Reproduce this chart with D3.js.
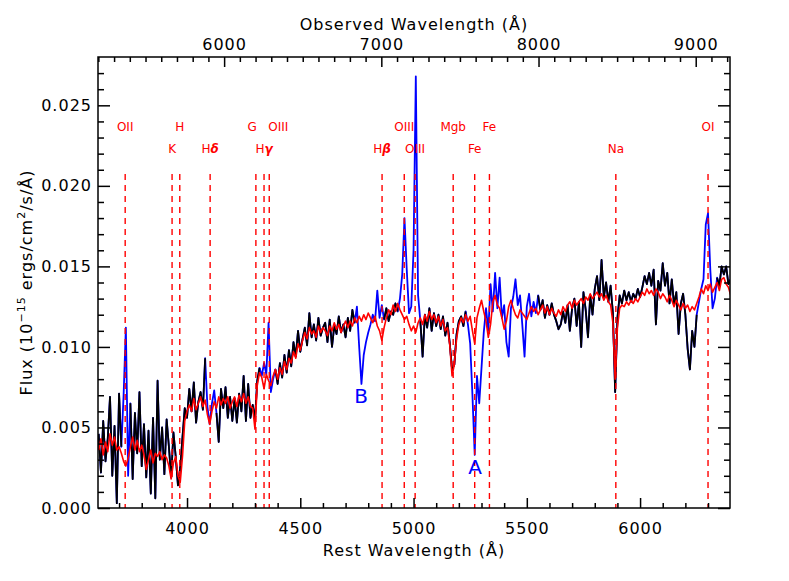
<!DOCTYPE html>
<html>
<head>
<meta charset="utf-8">
<script src="https://cdn.jsdelivr.net/npm/d3@7"></script>
<style>
  html, body { margin: 0; padding: 0; background: #fff; }
  svg { display: block; }
</style>
</head>
<body>
<svg id="chart" width="789" height="581"></svg>
<script>
// ---------------- DATA ----------------
// Rest wavelength grid (Å): start and step of the sampled spectrum
const restWavelengthStart = 3610;
const restWavelengthStep = 10;
// flux values in units of 10^-3 (x 10^-15 ergs/cm^2/s/Å)
const fluxUnit = 0.001;

// observed spectrum (drawn black, with blue where lines are masked)
const observedFlux = [
  4.6, 2.2, 5.4, 2.9, 4.3, 6.9, 2.0, 5.1, 0.3, 7.1,
  3.8, 7.0, 11.2, 2.0, 6.5, 1.8, 5.9, 3.4, 7.2, 2.6,
  5.2, 1.9, 4.8, 0.9, 5.6, 0.6, 7.9, 3.0, 5.0, 2.1,
  5.5, 3.8, 1.9, 4.7, 3.2, 1.4, 2.5, 4.4, 6.2, 5.6,
  7.4, 6.0, 7.8, 5.3, 6.6, 7.2, 6.1, 9.3, 6.3, 5.2,
  6.5, 7.3, 5.9, 4.1, 7.4, 6.2, 7.5, 5.6, 6.9, 5.4,
  6.8, 5.3, 7.1, 6.0, 8.2, 5.4, 7.7, 5.6, 6.4, 5.5,
  7.9, 8.7, 8.2, 9.0, 8.3, 11.5, 7.2, 8.0, 8.6, 7.7,
  9.0, 8.1, 9.5, 8.4, 9.8, 8.8, 10.3, 9.4, 11.0, 9.7,
  10.5, 11.2, 10.1, 12.1, 10.6, 11.4, 10.4, 11.8, 10.7, 11.2,
  11.5, 10.3, 11.7, 10.0, 11.3, 10.8, 11.9, 10.9, 11.4, 10.6,
  11.8, 11.0, 12.3, 11.5, 12.5, 10.0, 7.7, 9.5, 10.3, 10.9,
  11.4, 12.0, 11.6, 13.5, 11.8, 12.6, 11.7, 12.4, 11.6, 12.2,
  12.0, 12.7, 12.2, 13.0, 14.5, 18.0, 14.8, 12.1, 12.5, 16.0,
  26.8, 13.2, 11.6, 9.4, 12.0, 11.2, 12.4, 11.0, 12.1, 11.3,
  12.0, 11.1, 11.9, 10.7, 11.5, 10.2, 8.6, 8.9, 10.8, 11.6,
  11.9, 11.3, 12.2, 11.4, 10.2, 7.0, 3.3, 8.2, 6.5, 8.7,
  10.9, 12.4, 11.0, 13.9, 12.2, 14.6, 12.4, 14.3, 11.8, 12.6,
  10.3, 9.4, 12.4, 13.1, 14.2, 12.6, 13.2, 11.4, 9.4, 12.5,
  13.3, 11.9, 12.8, 12.1, 13.2, 12.3, 12.9, 11.8, 12.6, 12.0,
  12.7, 12.0, 11.6, 11.1, 11.4, 12.2, 11.5, 12.6, 11.0, 12.4,
  13.0, 11.3, 12.8, 10.0, 13.4, 12.3, 10.6, 13.2, 12.0, 13.6,
  14.4, 12.9, 15.4, 13.1, 14.0, 12.8, 13.8, 12.1, 7.2, 11.8,
  13.2, 12.7, 13.5, 12.9, 13.4, 12.8, 13.3, 13.0, 13.6, 13.1,
  13.7, 14.4, 13.9, 14.6, 13.8, 14.8, 11.4, 14.1, 13.5, 15.2,
  13.8, 14.6, 12.7, 14.2, 12.6, 13.4, 10.8, 12.7, 13.3, 12.0,
  9.9, 8.6, 11.0, 10.0, 12.0, 12.8, 13.6, 14.2, 17.6, 18.3,
  14.8, 12.4, 13.0, 14.3, 13.8, 15.0, 14.5, 15.0, 13.9, 14.2
];

// stellar population model (red)
const modelFlux = [
  3.6, 4.3, 3.3, 4.1, 3.5, 4.6, 3.9, 4.4, 3.6, 3.8,
  3.4, 2.9, 2.6, 3.1, 3.8, 4.4, 3.6, 4.2, 3.5, 3.9,
  3.3, 2.4, 3.0, 3.6, 2.8, 3.4, 3.2, 3.5, 3.0, 3.3,
  3.1, 2.6, 1.8, 2.8, 3.2, 2.0, 1.6, 3.2, 5.4, 6.0,
  6.4, 6.0, 6.8, 6.1, 6.5, 6.9, 6.3, 6.7, 5.8, 5.2,
  6.0, 6.6, 6.2, 6.9, 6.4, 6.8, 6.5, 6.9, 6.2, 6.6,
  6.9, 6.3, 7.0, 6.6, 7.1, 6.5, 6.9, 6.3, 6.2, 4.9,
  7.6, 8.4, 8.1, 7.4, 8.3, 7.9, 7.6, 8.2, 8.6, 8.0,
  8.7, 8.3, 9.1, 8.6, 9.3, 9.0, 9.7, 9.3, 10.2, 9.8,
  10.4, 10.9, 10.5, 11.2, 10.8, 11.0, 10.6, 11.3, 10.9, 11.2,
  11.0, 10.7, 11.3, 11.0, 11.5, 11.1, 11.4, 10.9, 11.3, 11.6,
  11.2, 11.6, 11.3, 11.8, 11.5, 11.9, 11.6, 12.0, 11.7, 12.1,
  11.8, 11.5, 11.9, 11.3, 11.0, 10.4, 11.2, 11.8, 12.3, 12.0,
  12.6, 12.2, 12.7, 12.3, 12.0, 11.7, 11.9, 11.4, 11.0, 11.3,
  10.9, 11.5, 11.8, 11.4, 12.0, 11.6, 12.2, 11.7, 12.0, 11.5,
  11.9, 11.3, 11.7, 11.0, 11.2, 10.1, 8.2, 8.9, 10.5, 11.4,
  11.8, 11.5, 12.0, 11.6, 11.9, 11.0, 10.2, 11.8, 12.4, 12.9,
  12.2, 11.6, 10.6, 11.4, 12.8, 13.2, 12.6, 12.4, 11.8, 11.1,
  11.6, 12.5, 12.9, 12.4, 12.0, 11.8, 12.3, 12.1, 11.9, 11.7,
  12.1, 12.5, 12.2, 12.4, 12.0, 12.3, 12.6, 12.1, 12.5, 12.0,
  12.4, 12.1, 11.9, 12.3, 12.0, 12.5, 12.2, 12.6, 12.8, 12.4,
  12.9, 12.6, 12.8, 13.0, 12.7, 13.1, 12.9, 13.3, 13.0, 13.2,
  13.4, 13.1, 13.3, 12.9, 13.2, 12.8, 12.6, 11.5, 8.0, 11.2,
  12.4, 12.6, 12.5, 12.8, 12.6, 12.9, 12.7, 13.0, 12.8, 13.1,
  13.4, 13.2, 13.6, 13.3, 13.5, 13.2, 13.6, 13.4, 13.0, 13.3,
  13.1, 12.8, 13.2, 12.9, 12.5, 12.9, 12.6, 12.3, 12.7, 12.4,
  12.6, 12.2, 12.5, 12.3, 12.7, 13.1, 13.6, 13.3, 13.8, 13.5,
  13.9, 13.4, 13.7, 14.0, 13.5, 14.2, 14.3, 13.9, 13.7, 13.2
];

// wavelength intervals (rest Å) where the line regions are shown in blue
const blueMaskRanges = [
  [3712, 3748], [4085, 4125], [4325, 4385], [4745, 4865],
  [4935, 5025], [5235, 5545], [6255, 6335]
];

// spectral line identifications
const lineNames = ["OII", "K", "H", "Hδ", "G", "Hγ", "OIII", "Hβ", "OIII", "OIII", "Mgb", "Fe", "Fe", "Na", "OI"];
const lineWavelengths = [3727, 3934, 3968, 4102, 4304, 4340, 4363, 4861, 4959, 5007, 5175, 5270, 5335, 5893, 6300];
const lineLabelRow = [0, 1, 0, 1, 0, 1, 0, 1, 0, 1, 0, 1, 0, 1, 0];
const lineLabelAnchor = ["middle", "middle", "middle", "middle", "end", "middle", "start", "middle", "middle", "middle", "middle", "middle", "middle", "middle", "middle"];

// feature markers
const markerLabels = ["B", "A"];
const markerWavelengths = [4768, 5272];
const markerFlux = [0.0065, 0.0021];

// axes
const restDomain = [3607, 6397];
const fluxDomain = [0, 0.028];
const redshiftFactor = 1.441; // observed = rest * (1+z)
const restMajorTicks = [4000, 4500, 5000, 5500, 6000];
const restMinorTicks = [3700, 3800, 3900, 4100, 4200, 4300, 4400, 4600, 4700, 4800, 4900, 5100, 5200, 5300, 5400, 5600, 5700, 5800, 5900, 6100, 6200, 6300];
const obsMajorTicks = [6000, 7000, 8000, 9000];
const obsMinorTicks = [5200, 5300, 5400, 5500, 5600, 5700, 5800, 5900, 6100, 6200, 6300, 6400, 6500, 6600, 6700, 6800, 6900, 7100, 7200, 7300, 7400, 7500, 7600, 7700, 7800, 7900, 8100, 8200, 8300, 8400, 8500, 8600, 8700, 8800, 8900, 9100, 9200];
const fluxMajorTicks = [0, 0.005, 0.010, 0.015, 0.020, 0.025];
const fluxMinorTicks = [0.001, 0.002, 0.003, 0.004, 0.006, 0.007, 0.008, 0.009, 0.011, 0.012, 0.013, 0.014, 0.016, 0.017, 0.018, 0.019, 0.021, 0.022, 0.023, 0.024, 0.026, 0.027];

// ---------------- DRAW ----------------
(function () {
const pL = 98, pR = 730, pT = 57, pB = 508;
const FONT = "'DejaVu Sans', Verdana, sans-serif";
const svg = d3.select("#chart");

const x = d3.scaleLinear().domain(restDomain).range([pL, pR]);
const xObs = d3.scaleLinear().domain(restDomain.map(d => d * redshiftFactor)).range([pL, pR]);
const y = d3.scaleLinear().domain(fluxDomain).range([pB, pT]);

const spectrum = observedFlux.map((f, i) => ({
  wl: restWavelengthStart + i * restWavelengthStep,
  obs: f * fluxUnit,
  model: modelFlux[i] * fluxUnit
}));
const inMask = wl => blueMaskRanges.some(r => wl >= r[0] && wl <= r[1]);

svg.append("defs").append("clipPath").attr("id", "clip")
  .append("rect").attr("x", pL).attr("y", pT).attr("width", pR - pL).attr("height", pB - pT);

const plot = svg.append("g").attr("clip-path", "url(#clip)");

const lineObs = d3.line().x(d => x(d.wl)).y(d => y(d.obs));
const lineObsBlack = d3.line().defined(d => !inMask(d.wl)).x(d => x(d.wl)).y(d => y(d.obs));
const lineModel = d3.line().x(d => x(d.wl)).y(d => y(d.model));

plot.append("path").datum(spectrum).attr("d", lineObs)
  .attr("fill", "none").attr("stroke", "#0000ff").attr("stroke-width", 1.8).attr("stroke-linejoin", "round");
plot.append("path").datum(spectrum).attr("d", lineObsBlack)
  .attr("fill", "none").attr("stroke", "#000").attr("stroke-width", 1.8).attr("stroke-linejoin", "round");
plot.append("path").datum(spectrum).attr("d", lineModel)
  .attr("fill", "none").attr("stroke", "#ff0000").attr("stroke-width", 1.6).attr("stroke-linejoin", "round");

// dashed line markers
const lines = lineNames.map((n, i) => ({ name: n, wl: lineWavelengths[i], row: lineLabelRow[i], anchor: lineLabelAnchor[i] }));
plot.selectAll("line.ident").data(lines).join("line")
  .attr("class", "ident")
  .attr("x1", d => x(d.wl)).attr("x2", d => x(d.wl))
  .attr("y1", pT + 117).attr("y2", pB)
  .attr("stroke", "#ff0000").attr("stroke-width", 1.4).attr("stroke-dasharray", "6,5");

const labels = svg.append("g").attr("font-family", FONT).attr("font-size", 12).attr("fill", "#ff0000");
lines.forEach(d => {
  const t = labels.append("text")
    .attr("x", x(d.wl) + (d.anchor === "end" ? 1 : d.anchor === "start" ? -1 : 0))
    .attr("y", d.row === 0 ? pT + 74 : pT + 96)
    .attr("text-anchor", d.anchor);
  if (d.name.length === 2 && d.name[0] === "H") {
    t.append("tspan").text("H");
    t.append("tspan").attr("font-style", "italic").attr("font-weight", "bold").text(d.name[1]);
  } else {
    t.text(d.name);
  }
});

// A / B markers
svg.append("g").selectAll("text").data(markerLabels).join("text")
  .attr("x", (d, i) => x(markerWavelengths[i]))
  .attr("y", (d, i) => y(markerFlux[i]))
  .attr("text-anchor", "middle")
  .attr("font-family", FONT).attr("font-size", 20).attr("fill", "#0000ff")
  .text(d => d);

// ---------------- AXES ----------------
function styleAxis(g) {
  g.select(".domain").remove();
  g.selectAll("line").attr("stroke", "#000").attr("stroke-width", 1.5);
  g.selectAll("text").attr("fill", "#000").attr("font-family", FONT).attr("font-size", 16).attr("letter-spacing", 1);
}
svg.append("g").attr("transform", `translate(0,${pB})`)
  .call(d3.axisBottom(x).tickValues(restMajorTicks).tickSize(-10).tickPadding(15).tickFormat(d3.format("d"))).call(styleAxis);
svg.append("g").attr("transform", `translate(0,${pB})`)
  .call(d3.axisBottom(x).tickValues(restMinorTicks).tickSize(-5).tickFormat("")).call(styleAxis);
svg.append("g").attr("transform", `translate(0,${pT})`)
  .call(d3.axisTop(xObs).tickValues(obsMajorTicks).tickSize(-10).tickPadding(7).tickFormat(d3.format("d"))).call(styleAxis);
svg.append("g").attr("transform", `translate(0,${pT})`)
  .call(d3.axisTop(xObs).tickValues(obsMinorTicks).tickSize(-5).tickFormat("")).call(styleAxis);
svg.append("g").attr("transform", `translate(${pL},0)`)
  .call(d3.axisLeft(y).tickValues(fluxMajorTicks).tickSize(-12).tickPadding(6).tickFormat(d3.format(".3f"))).call(styleAxis);
svg.append("g").attr("transform", `translate(${pL},0)`)
  .call(d3.axisLeft(y).tickValues(fluxMinorTicks).tickSize(-6).tickFormat("")).call(styleAxis);
svg.append("g").attr("transform", `translate(${pR},0)`)
  .call(d3.axisRight(y).tickValues(fluxMajorTicks).tickSize(-12).tickFormat("")).call(styleAxis);
svg.append("g").attr("transform", `translate(${pR},0)`)
  .call(d3.axisRight(y).tickValues(fluxMinorTicks).tickSize(-6).tickFormat("")).call(styleAxis);

svg.append("rect").attr("x", pL).attr("y", pT).attr("width", pR - pL).attr("height", pB - pT)
  .attr("fill", "none").attr("stroke", "#000").attr("stroke-width", 1.5);

svg.append("text").attr("x", (pL + pR) / 2).attr("y", 556).attr("text-anchor", "middle")
  .attr("font-family", FONT).attr("font-size", 16).attr("letter-spacing", 1).text("Rest Wavelength (Å)");
svg.append("text").attr("x", (pL + pR) / 2).attr("y", 30).attr("text-anchor", "middle")
  .attr("font-family", FONT).attr("font-size", 16).attr("letter-spacing", 1).text("Observed Wavelength (Å)");

const yl = svg.append("text").attr("transform", `translate(32,${(pT + pB) / 2}) rotate(-90)`)
  .attr("text-anchor", "middle").attr("font-family", FONT).attr("font-size", 16).attr("letter-spacing", 1);
yl.append("tspan").text("Flux (10");
yl.append("tspan").attr("dy", -7).attr("font-size", 11).text("−15");
yl.append("tspan").attr("dy", 7).text(" ergs/cm");
yl.append("tspan").attr("dy", -7).attr("font-size", 11).text("2");
yl.append("tspan").attr("dy", 7).text("/s/Å)");
})();
</script>
</body>
</html>
